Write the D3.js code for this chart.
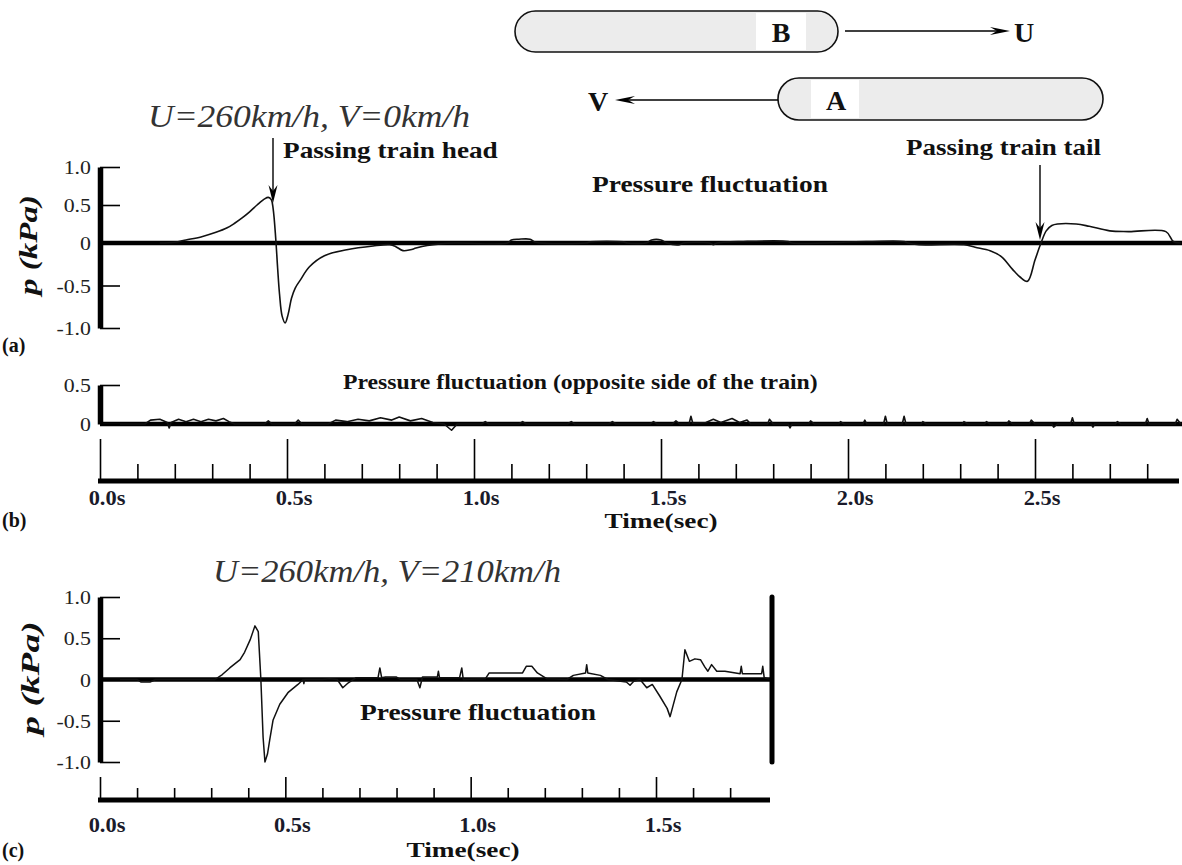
<!DOCTYPE html>
<html><head><meta charset="utf-8">
<script src="https://cdn.jsdelivr.net/npm/d3@7"></script>
<style>body{margin:0;background:#fff}svg{display:block}</style>
</head><body>
<svg id="c" width="1182" height="865"></svg>
<script>
// ---------- DATA ----------
const yTicksA = [-1.0, -0.5, 0, 0.5, 1.0];
const yTickLabelsA = ["-1.0", "-0.5", "0", "0.5", "1.0"];
const yTicksB = [0, 0.5];
const yTickLabelsB = ["0", "0.5"];
const timeMajorTop = [0, 0.5, 1.0, 1.5, 2.0, 2.5];
const timeLabelsTop = ["0.0s", "0.5s", "1.0s", "1.5s", "2.0s", "2.5s"];
const timeMinorTop = [0.1,0.2,0.3,0.4,0.6,0.7,0.8,0.9,1.1,1.2,1.3,1.4,1.6,1.7,1.8,1.9,2.1,2.2,2.3,2.4,2.6,2.7,2.8];
const timeMajorC = [0, 0.5, 1.0, 1.5];
const timeLabelsC = ["0.0s", "0.5s", "1.0s", "1.5s"];
const timeMinorC = [0.1,0.2,0.3,0.4,0.6,0.7,0.8,0.9,1.1,1.2,1.3,1.4,1.6,1.7];

// (a) pressure fluctuation, U=260, V=0  [time s, p kPa]
const seriesA = [[0.16,0],[0.2,0.01],[0.23,0.04],[0.27,0.08],[0.31,0.14],[0.34,0.2],[0.36,0.26],[0.38,0.33],[0.40,0.41],[0.42,0.5],[0.44,0.58],[0.45,0.6],[0.458,0.57],[0.463,0.45],[0.47,0.05],[0.475,-0.3],[0.48,-0.6],[0.487,-0.86],[0.495,-0.94],[0.503,-0.84],[0.512,-0.65],[0.522,-0.53],[0.535,-0.44],[0.56,-0.28],[0.6,-0.15],[0.66,-0.08],[0.73,-0.035],[0.775,-0.02],[0.79,-0.04],[0.81,-0.09],[0.83,-0.08],[0.845,-0.06],[0.875,-0.03],[0.91,-0.01],[0.95,0],[1.09,0],[1.1,0.04],[1.12,0.05],[1.15,0.05],[1.165,0.01],[1.3,0],[1.31,0.015],[1.40,0.015],[1.41,0],[1.46,0],[1.475,0.04],[1.5,0.04],[1.515,0],[1.55,-0.02],[1.56,0],[1.63,0],[1.64,-0.02],[1.65,0],[1.72,0.02],[1.84,0.02],[1.85,0],[2.05,0.02],[2.15,0.02],[2.16,0],[2.19,-0.02],[2.31,-0.02],[2.34,-0.05],[2.38,-0.09],[2.41,-0.16],[2.44,-0.31],[2.46,-0.4],[2.48,-0.45],[2.50,-0.2],[2.516,0],[2.53,0.16],[2.545,0.23],[2.56,0.25],[2.61,0.25],[2.645,0.22],[2.70,0.16],[2.75,0.15],[2.85,0.15],[2.87,0.02],[2.89,0]];

// (b) opposite side of the train
const seriesB = [[0,0],[0.12,0],[0.135,0.05],[0.16,0.06],[0.18,0.02],[0.185,-0.05],[0.19,0.02],[0.21,0.06],[0.23,0.03],[0.25,0.06],[0.27,0.03],[0.29,0.06],[0.31,0.04],[0.33,0.07],[0.345,0.03],[0.36,0],[0.44,0],[0.45,0.04],[0.46,0],[0.52,0],[0.53,0.05],[0.54,0],[0.61,0],[0.63,0.05],[0.66,0.03],[0.69,0.06],[0.72,0.04],[0.75,0.08],[0.78,0.05],[0.80,0.09],[0.83,0.04],[0.86,0.07],[0.89,0.02],[0.92,0],[0.94,-0.08],[0.955,0],[1.02,0],[1.03,0.03],[1.04,0],[1.12,0],[1.13,0.03],[1.14,0],[1.25,0],[1.26,0.03],[1.27,0],[1.36,0],[1.37,0.03],[1.38,0],[1.47,0],[1.48,0.03],[1.49,0],[1.53,0],[1.54,0.04],[1.55,0],[1.575,0],[1.58,0.1],[1.585,0.01],[1.62,0.02],[1.64,0.06],[1.66,0.02],[1.69,0.07],[1.71,0.02],[1.73,0.05],[1.74,0],[1.785,0],[1.79,0.06],[1.80,0],[1.84,0],[1.845,-0.05],[1.85,0],[1.895,0],[1.90,0.04],[1.91,0],[1.975,0],[1.98,0.03],[1.99,0],[2.04,0],[2.045,0.05],[2.05,0],[2.095,0],[2.10,0.1],[2.105,0],[2.145,0],[2.15,0.1],[2.155,0],[2.195,0],[2.20,0.03],[2.21,0],[2.305,0],[2.31,0.03],[2.32,0],[2.365,0],[2.37,0.03],[2.38,0],[2.425,0],[2.43,0.04],[2.44,0],[2.485,0],[2.49,0.05],[2.50,0],[2.545,0],[2.55,-0.04],[2.56,0],[2.595,0],[2.60,0.08],[2.605,0],[2.65,0],[2.655,-0.04],[2.66,0],[2.715,0],[2.72,0.03],[2.73,0],[2.795,0],[2.80,0.07],[2.805,0],[2.875,0],[2.88,0.06],[2.89,0]];

// (c) U=260, V=210
const seriesC = [[0,0],[0.1,0],[0.11,-0.03],[0.135,-0.03],[0.15,0],[0.31,0],[0.33,0.06],[0.35,0.14],[0.378,0.24],[0.39,0.33],[0.405,0.48],[0.418,0.65],[0.427,0.58],[0.434,0],[0.44,-0.7],[0.445,-1.0],[0.452,-0.9],[0.458,-0.73],[0.467,-0.49],[0.485,-0.3],[0.507,-0.16],[0.534,-0.06],[0.548,0],[0.55,-0.05],[0.552,0],[0.6,0],[0.62,0.01],[0.64,0],[0.655,-0.1],[0.67,-0.04],[0.69,0.02],[0.75,0.02],[0.755,0.14],[0.76,0.02],[0.77,0.03],[0.8,0.03],[0.81,0],[0.855,0],[0.863,-0.1],[0.87,0.03],[0.91,0.03],[0.913,0.1],[0.916,0.02],[0.97,0.02],[0.976,0.14],[0.98,0],[1.04,0.01],[1.05,0.08],[1.14,0.08],[1.15,0.16],[1.165,0.16],[1.18,0.08],[1.205,0.01],[1.26,0],[1.277,0.05],[1.31,0.08],[1.313,0.18],[1.316,0.08],[1.35,0.05],[1.37,0],[1.42,-0.03],[1.43,-0.07],[1.44,-0.02],[1.457,0],[1.475,-0.1],[1.49,-0.06],[1.51,-0.2],[1.53,-0.35],[1.538,-0.45],[1.556,-0.15],[1.57,0],[1.578,0.36],[1.59,0.22],[1.605,0.25],[1.62,0.24],[1.632,0.15],[1.64,0.1],[1.65,0.18],[1.664,0.1],[1.686,0.1],[1.727,0.07],[1.73,0.16],[1.733,0.07],[1.785,0.07],[1.788,0.16],[1.792,0.02],[1.81,0]];

// ---------- DRAW ----------
const svg = d3.select("#c");
const SERIF = "'Liberation Serif','Times New Roman',serif";

function txt(x, y, s, o) {
  o = o || {};
  return svg.append("text")
    .attr("transform", `translate(${x},${y})` + (o.rot ? ` rotate(${o.rot})` : "") + ` scale(${o.sx || 1},1)`)
    .attr("font-family", SERIF)
    .attr("font-size", o.size || 20)
    .attr("font-weight", o.weight || "normal")
    .attr("font-style", o.style || "normal")
    .attr("text-anchor", o.anchor || "start")
    .attr("fill", o.fill || "#111")
    .text(s);
}

const xTop = d3.scaleLinear().domain([0, 2.5]).range([100, 1035]);
const xC = d3.scaleLinear().domain([0, 1.5]).range([100, 656]);
const yA = d3.scaleLinear().domain([-1, 0, 1]).range([328, 243, 167]);
const yB = d3.scaleLinear().domain([0, 0.5]).range([424, 385]);
const yC = d3.scaleLinear().domain([-1, 1]).range([762, 597]);

function yAxis(scale, ticks, labels, x) {
  const g = svg.append("g").attr("transform", `translate(${x},0)`)
    .call(d3.axisLeft(scale).tickValues(ticks).tickSize(-20).tickSizeOuter(0).tickFormat(""));
  g.select(".domain").attr("stroke", "#000").attr("stroke-width", 5.5);
  g.selectAll(".tick line").attr("stroke", "#000").attr("stroke-width", 1.6);
  ticks.forEach((v, i) => txt(x - 9, scale(v) + 7, labels[i], {size: 19, anchor: "end", sx: 1.15, fill: "#222"}));
}

function timeAxis(scale, y, major, labels, minor, endX, majorLen, minorLen, labDy) {
  svg.append("line").attr("x1", scale(0) - 2).attr("x2", endX).attr("y1", y).attr("y2", y)
    .attr("stroke", "#000").attr("stroke-width", 5);
  const gm = svg.append("g").attr("transform", `translate(0,${y})`)
    .call(d3.axisTop(scale).tickValues(minor).tickSize(minorLen).tickSizeOuter(0).tickFormat(""));
  gm.select(".domain").remove();
  gm.selectAll(".tick line").attr("stroke", "#000").attr("stroke-width", 1.6);
  const gM = svg.append("g").attr("transform", `translate(0,${y})`)
    .call(d3.axisTop(scale).tickValues(major).tickSize(majorLen).tickSizeOuter(0).tickFormat(""));
  gM.select(".domain").remove();
  gM.selectAll(".tick line").attr("stroke", "#000").attr("stroke-width", 1.6);
  major.forEach((v, i) => txt(scale(v) + 7, y + labDy, labels[i], {size: 20, weight: "bold", anchor: "middle", sx: 1.12, fill: "#1a1a2a"}));
}

function zeroLine(xs, x2, y) {
  svg.append("line").attr("x1", xs).attr("x2", x2).attr("y1", y).attr("y2", y)
    .attr("stroke", "#000").attr("stroke-width", 4.5);
}

function curve(data, xs, ys, w, smooth) {
  const ln = d3.line().x(d => xs(d[0])).y(d => ys(d[1]));
  if (smooth) ln.curve(d3.curveCatmullRom.alpha(0.5));
  svg.append("path").datum(data)
    .attr("d", ln)
    .attr("fill", "none").attr("stroke", "#111").attr("stroke-width", w || 1.6)
    .attr("stroke-linejoin", "round");
}

function arrowDown(x, y1, y2) {
  svg.append("line").attr("x1", x).attr("x2", x).attr("y1", y1).attr("y2", y2 - 8)
    .attr("stroke", "#000").attr("stroke-width", 1.4);
  svg.append("path").attr("d", `M${x - 4.5},${y2 - 18} L${x},${y2} L${x + 4.5},${y2 - 18} L${x},${y2 - 12} Z`).attr("fill", "#000");
}
function arrowH(x1, x2, y) {
  const dir = x2 > x1 ? 1 : -1;
  svg.append("line").attr("x1", x1).attr("x2", x2 - dir * 6).attr("y1", y).attr("y2", y)
    .attr("stroke", "#000").attr("stroke-width", 1.4);
  svg.append("path").attr("d", `M${x2 - dir * 20},${y - 4} L${x2},${y} L${x2 - dir * 20},${y + 4} L${x2 - dir * 13},${y} Z`).attr("fill", "#000");
}

// ---- top diagram ----
svg.append("rect").attr("x", 515).attr("y", 11).attr("width", 323).attr("height", 41).attr("rx", 20.5)
  .attr("fill", "#ececec").attr("stroke", "#111").attr("stroke-width", 1.6);
svg.append("rect").attr("x", 756).attr("y", 13).attr("width", 50).attr("height", 37).attr("fill", "#fff");
txt(781, 42, "B", {size: 28, weight: "bold", anchor: "middle"});
arrowH(845, 1010, 31);
txt(1024, 42, "U", {size: 28, weight: "bold", anchor: "middle"});

svg.append("rect").attr("x", 778).attr("y", 78).attr("width", 325).attr("height", 42).attr("rx", 21)
  .attr("fill", "#ececec").attr("stroke", "#111").attr("stroke-width", 1.6);
svg.append("rect").attr("x", 811).attr("y", 80).attr("width", 48).attr("height", 38).attr("fill", "#fff");
txt(836, 110, "A", {size: 28, weight: "bold", anchor: "middle"});
arrowH(778, 615, 100);
txt(598, 111, "V", {size: 28, weight: "bold", anchor: "middle"});

// ---- panel (a) ----
txt(148, 127, "U=260km/h, V=0km/h", {size: 32, style: "italic", sx: 1.11, fill: "#333"});
arrowDown(273, 138, 203);
txt(283, 158, "Passing train head", {size: 22.5, weight: "bold", sx: 1.21});
txt(592, 192, "Pressure fluctuation", {size: 22.5, weight: "bold", sx: 1.22});
txt(906, 155, "Passing train tail", {size: 22.5, weight: "bold", sx: 1.2});
arrowDown(1040, 165, 240);
txt(37, 245, "p (kPa)", {size: 25, weight: "bold", style: "italic", anchor: "middle", rot: -90, sx: 1.32});
zeroLine(100, 1182, yA(0));
curve(seriesA, xTop, yA, 1.6, true);
yAxis(yA, yTicksA, yTickLabelsA, 100);
txt(2, 352, "(a)", {size: 20, weight: "bold"});

// ---- panel (b) ----
txt(343, 389, "Pressure fluctuation (opposite side of the train)", {size: 21, weight: "bold", sx: 1.13});
zeroLine(100, 1182, yB(0));
curve(seriesB, xTop, yB, 1.6, false);
yAxis(yB, yTicksB, yTickLabelsB, 100);
timeAxis(xTop, 481, timeMajorTop, timeLabelsTop, timeMinorTop, 1179, 42, 17, 24);
txt(661, 528, "Time(sec)", {size: 21, weight: "bold", anchor: "middle", sx: 1.3});
txt(2, 527, "(b)", {size: 20, weight: "bold"});

// ---- panel (c) ----
txt(213, 582, "U=260km/h, V=210km/h", {size: 32, style: "italic", sx: 1.08, fill: "#333"});
txt(360, 720, "Pressure fluctuation", {size: 22.5, weight: "bold", sx: 1.22});
zeroLine(100, 772, yC(0));
curve(seriesC, xC, yC, 1.5, false);
yAxis(yC, yTicksA, yTickLabelsA, 100);
svg.append("line").attr("x1", 772).attr("x2", 772).attr("y1", yC(1)).attr("y2", yC(-1))
  .attr("stroke", "#000").attr("stroke-width", 5).attr("stroke-linecap", "round");
txt(39, 678, "p (kPa)", {size: 25, weight: "bold", style: "italic", anchor: "middle", rot: -90, sx: 1.5});
timeAxis(xC, 800, timeMajorC, timeLabelsC, timeMinorC, 770, 23, 12, 32);
txt(463, 857, "Time(sec)", {size: 21, weight: "bold", anchor: "middle", sx: 1.3});
txt(2, 857, "(c)", {size: 20, weight: "bold"});
</script>
</body></html>
